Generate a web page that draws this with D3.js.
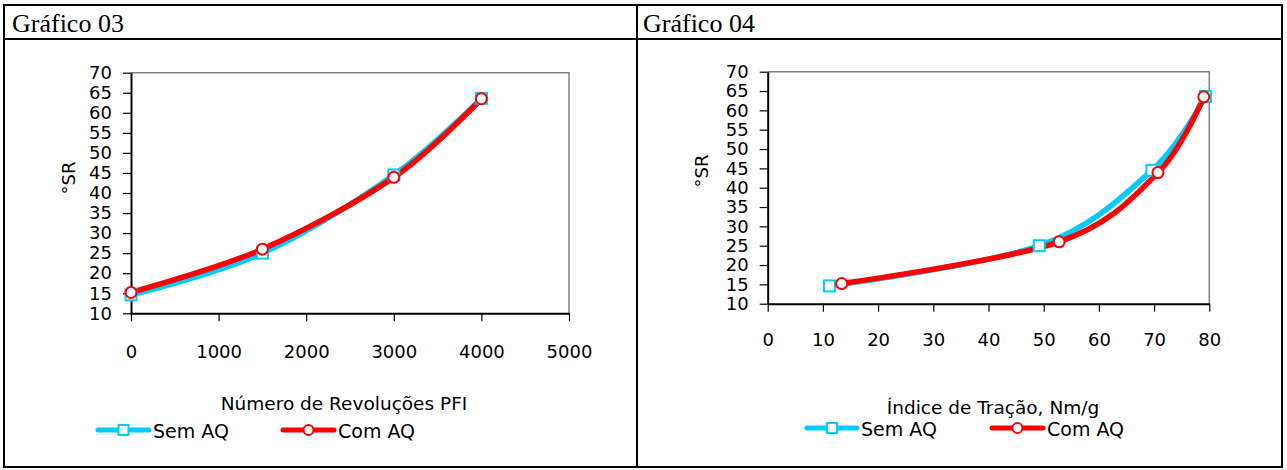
<!DOCTYPE html>
<html>
<head>
<meta charset="utf-8">
<script src="https://cdn.jsdelivr.net/npm/d3@7"></script>
<style>
  html, body { margin: 0; padding: 0; background: #fff; }
  svg { display: block; }
  .cell-title { font-family: "Liberation Serif", "Times New Roman", serif; font-size: 26px; fill: #000; }
  .tick text { font-family: "DejaVu Sans", Verdana, sans-serif; font-size: 18px; fill: #000; }
  .lbl { font-family: "DejaVu Sans", Verdana, sans-serif; fill: #000; }
</style>
</head>
<body>
<svg id="page" width="1287" height="470"></svg>
<script>
// Grau Schopper-Riegler (°SR) para as polpas sem e com AQ
const srSemAQ = [14.6, 25.0, 44.5, 63.6];
const srComAQ = [15.2, 26.0, 43.9, 63.5];

// Gráfico 03: número de revoluções no moinho PFI
const revolucoes = [0, 1500, 3000, 4000];

// Gráfico 04: índice de tração (Nm/g)
const tracaoSemAQ = [11.2, 49.2, 69.6, 79.3];
const tracaoComAQ = [13.4, 52.8, 70.7, 79.0];

// Eixos
const yTicks = [10, 15, 20, 25, 30, 35, 40, 45, 50, 55, 60, 65, 70];
const xTicksRev = [0, 1000, 2000, 3000, 4000, 5000];
const xTicksTracao = [0, 10, 20, 30, 40, 50, 60, 70, 80];

const seriesNames = ["Sem AQ", "Com AQ"];
const CYAN = "#00CCFF";
const RED = "#FF0000";

const svg = d3.select("#page");

// Moldura da tabela
const table = svg.append("g").attr("fill", "none").attr("stroke", "#000").attr("stroke-width", 2);
table.append("rect").attr("x", 4).attr("y", 5).attr("width", 1278).attr("height", 462);
table.append("line").attr("x1", 4).attr("x2", 1282).attr("y1", 39).attr("y2", 39);
table.append("line").attr("x1", 637).attr("x2", 637).attr("y1", 5).attr("y2", 467);

svg.append("text").attr("class", "cell-title").attr("x", 12).attr("y", 32).text("Gráfico 03");
svg.append("text").attr("class", "cell-title").attr("x", 643).attr("y", 32).text("Gráfico 04");

function drawChart(cfg) {
  const x = d3.scaleLinear().domain(cfg.xDomain).range(cfg.xRange);
  const y = d3.scaleLinear().domain([10, 70]).range(cfg.yRange);
  const g = svg.append("g");
  const [x0, x1] = cfg.xRange;
  const [yb, yt] = cfg.yRange;

  // bordas superior e direita da área de plotagem
  g.append("path")
    .attr("d", `M${x0},${yt}H${x1}V${yb}`)
    .attr("fill", "none").attr("stroke", "#808080").attr("stroke-width", 1.5);

  const yAxis = g.append("g").attr("transform", `translate(${x0},0)`)
    .call(d3.axisLeft(y).tickValues(yTicks).tickSize(8).tickSizeOuter(0).tickPadding(11));
  const xAxis = g.append("g").attr("transform", `translate(0,${yb})`)
    .call(d3.axisBottom(x).tickValues(cfg.xTicks).tickSize(8).tickSizeOuter(0).tickFormat(d3.format("d")));
  xAxis.selectAll(".tick text").attr("y", cfg.xLabelOffset).attr("dy", "0.71em");
  [yAxis, xAxis].forEach(a => {
    a.select(".domain").attr("stroke", "#000").attr("stroke-width", 2);
    a.selectAll(".tick line").attr("stroke", "#000").attr("stroke-width", 1.2);
  });

  // título do eixo Y
  g.append("text").attr("class", "lbl")
    .attr("transform", `translate(${cfg.yTitle[0]},${cfg.yTitle[1]}) rotate(-90)`)
    .attr("text-anchor", "middle").attr("font-size", 18).text("°SR");
  // título do eixo X
  g.append("text").attr("class", "lbl")
    .attr("x", cfg.xTitle[0]).attr("y", cfg.xTitle[1])
    .attr("text-anchor", "middle").attr("font-size", 18.5).text(cfg.xTitleText);

  const line = d3.line().x(d => x(d[0])).y(d => y(d[1])).curve(d3.curveCatmullRom.alpha(0));
  const sem = cfg.xSem.map((v, i) => [v, srSemAQ[i]]);
  const com = cfg.xCom.map((v, i) => [v, srComAQ[i]]);

  g.append("path").datum(sem).attr("d", line)
    .attr("fill", "none").attr("stroke", CYAN).attr("stroke-width", 5.5).attr("stroke-linejoin", "round");
  g.append("path").datum(com).attr("d", line)
    .attr("fill", "none").attr("stroke", RED).attr("stroke-width", 5.5).attr("stroke-linejoin", "round");

  g.selectAll(".sq").data(sem).join("rect")
    .attr("x", d => x(d[0]) - 5.5).attr("y", d => y(d[1]) - 5.5)
    .attr("width", 11).attr("height", 11)
    .attr("fill", "#fff").attr("stroke", CYAN).attr("stroke-width", 2);
  g.selectAll(".ci").data(com).join("circle")
    .attr("cx", d => x(d[0])).attr("cy", d => y(d[1])).attr("r", 5.5)
    .attr("fill", "#fff").attr("stroke", RED).attr("stroke-width", 2);

  // legenda
  const lg = g.append("g");
  const [ly, items] = cfg.legend;
  items.forEach((it, i) => {
    lg.append("line").attr("x1", it.x1).attr("x2", it.x2).attr("y1", ly).attr("y2", ly)
      .attr("stroke", i === 0 ? CYAN : RED).attr("stroke-width", 5).attr("stroke-linecap", "round");
    const mx = (it.x1 + it.x2) / 2;
    if (i === 0) {
      lg.append("rect").attr("x", mx - 5).attr("y", ly - 5).attr("width", 10).attr("height", 10)
        .attr("fill", "#fff").attr("stroke", CYAN).attr("stroke-width", 2);
    } else {
      lg.append("circle").attr("cx", mx).attr("cy", ly).attr("r", 5)
        .attr("fill", "#fff").attr("stroke", RED).attr("stroke-width", 2);
    }
    lg.append("text").attr("class", "lbl").attr("x", it.x2 + 4).attr("y", ly + 8)
      .attr("font-size", 19).text(seriesNames[i]);
  });
}

drawChart({
  xDomain: [0, 5000], xRange: [131, 569], yRange: [313.3, 72.7],
  xTicks: xTicksRev, xLabelOffset: 31.5,
  xSem: revolucoes, xCom: revolucoes,
  yTitle: [75, 178], xTitle: [344, 410], xTitleText: "Número de Revoluções PFI",
  legend: [430, [{ x1: 98, x2: 149 }, { x1: 283, x2: 334 }]]
});

drawChart({
  xDomain: [0, 80], xRange: [767.7, 1209.3], yRange: [303.7, 71.7],
  xTicks: xTicksTracao, xLabelOffset: 29.5,
  xSem: tracaoSemAQ, xCom: tracaoComAQ,
  yTitle: [708, 171], xTitle: [993, 414], xTitleText: "Índice de Tração, Nm/g",
  legend: [428, [{ x1: 807, x2: 857 }, { x1: 992, x2: 1043 }]]
});
</script>
</body>
</html>
